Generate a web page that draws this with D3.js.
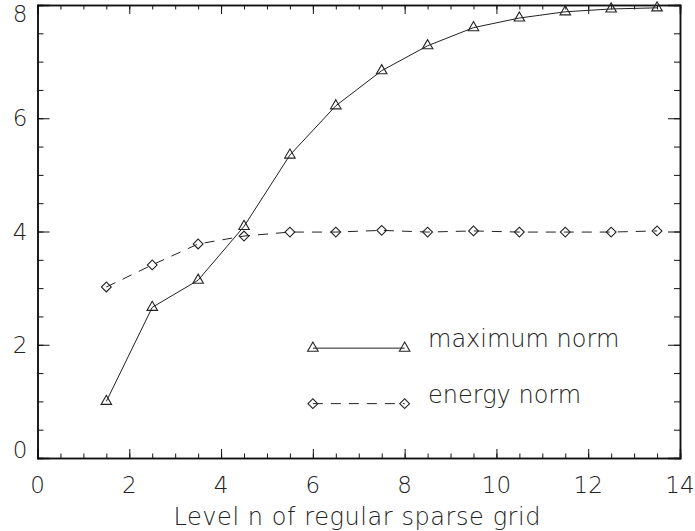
<!DOCTYPE html>
<html>
<head>
<meta charset="utf-8">
<script src="https://cdn.jsdelivr.net/npm/d3@7"></script>
<style>
  body { margin: 0; background: #fff; }
  text { font-family: "DejaVu Sans", sans-serif; font-weight: 200; fill: #222; }
</style>
</head>
<body>
<div id="chart"></div>
<script>
const width = 695;
const height = 531;

const levels = [1.5, 2.5, 3.5, 4.5, 5.5, 6.5, 7.5, 8.5, 9.5, 10.5, 11.5, 12.5, 13.5];
const maxNorm = [1.0, 2.66, 3.14, 4.09, 5.35, 6.22, 6.84, 7.28, 7.6, 7.77, 7.88, 7.93, 7.95];
const energyNorm = [3.02, 3.41, 3.78, 3.92, 3.99, 3.99, 4.02, 3.99, 4.01, 3.99, 3.99, 3.99, 4.01];
const xTicks = [0, 2, 4, 6, 8, 10, 12, 14];
const yTicks = [0, 2, 4, 6, 8];
const legendItems = [
  {label: 'maximum norm', y: 1.94, symbol: 'triangle', dash: null},
  {label: 'energy norm', y: 0.96, symbol: 'diamond', dash: '10,8'}
];

const margin = {left: 37.5, right: 15, top: 5, bottom: 73};

const x = d3.scaleLinear().domain([0, 14]).range([margin.left, width - margin.right]);
const y = d3.scaleLinear().domain([0, 8]).range([height - margin.bottom, margin.top]);

const svg = d3.select('#chart').append('svg')
  .attr('width', width)
  .attr('height', height);

// frame with ticks on all four sides, pointing inward
const xMinor = d3.range(0, 14.01, 0.5);
const yMinor = d3.range(0, 8.01, 0.5);

function frameAxis(axis, pos) {
  return svg.append('g').attr('transform', pos).call(axis)
    .call(g => g.select('.domain').attr('stroke', '#111').attr('stroke-width', 1.5))
    .call(g => g.selectAll('line').attr('stroke', '#111'));
}

frameAxis(d3.axisBottom(x).tickValues(xMinor).tickSize(-4.5).tickFormat(''), `translate(0,${y(0)})`);
frameAxis(d3.axisBottom(x).tickValues(xTicks).tickSize(-9).tickFormat(''), `translate(0,${y(0)})`);
frameAxis(d3.axisTop(x).tickValues(xMinor).tickSize(-4.5).tickFormat(''), `translate(0,${y(8)})`);
frameAxis(d3.axisTop(x).tickValues(xTicks).tickSize(-9).tickFormat(''), `translate(0,${y(8)})`);
frameAxis(d3.axisLeft(y).tickValues(yMinor).tickSize(-6).tickFormat(''), `translate(${x(0)},0)`);
frameAxis(d3.axisLeft(y).tickValues(yTicks).tickSize(-12).tickFormat(''), `translate(${x(0)},0)`);
frameAxis(d3.axisRight(y).tickValues(yMinor).tickSize(-6).tickFormat(''), `translate(${x(14)},0)`);
frameAxis(d3.axisRight(y).tickValues(yTicks).tickSize(-12).tickFormat(''), `translate(${x(14)},0)`);

// tick labels
svg.append('g').selectAll('text')
  .data(xTicks)
  .join('text')
  .attr('x', d => x(d))
  .attr('y', y(0) + 35)
  .attr('text-anchor', 'middle')
  .attr('font-size', 23)
  .text(d => d);

svg.append('g').selectAll('text')
  .data(yTicks)
  .join('text')
  .attr('x', x(0) - 10)
  .attr('y', d => d === 8 ? y(d) + 17 : d === 0 ? y(d) : y(d) + 8)
  .attr('text-anchor', 'end')
  .attr('font-size', 23)
  .text(d => d);

svg.append('text')
  .attr('x', 357)
  .attr('y', 525)
  .attr('text-anchor', 'middle')
  .attr('font-size', 24)
  .attr('textLength', 367)
  .text('Level n of regular sparse grid');

// series
const pts = (vals) => levels.map((l, i) => [l, vals[i]]);
const line = d3.line().x(d => x(d[0])).y(d => y(d[1]));

const triangle = d3.symbol().type(d3.symbolTriangle).size(48);
const diamond = d3.symbol().type(d3.symbolSquare).size(48);

function drawSeries(data, dash, symbol) {
  svg.append('path')
    .datum(data)
    .attr('d', line)
    .attr('fill', 'none')
    .attr('stroke', '#222')
    .attr('stroke-width', 1)
    .attr('stroke-dasharray', dash);
  svg.append('g').selectAll('path')
    .data(data)
    .join('path')
    .attr('transform', d => symbol === 'diamond'
      ? `translate(${x(d[0])},${y(d[1])}) rotate(45)`
      : `translate(${x(d[0])},${y(d[1])})`)
    .attr('d', symbol === 'diamond' ? diamond : triangle)
    .attr('fill', 'none')
    .attr('stroke', '#222')
    .attr('stroke-width', 1.1);
}

drawSeries(pts(energyNorm), '10,8', 'diamond');
drawSeries(pts(maxNorm), null, 'triangle');

// legend
legendItems.forEach(item => {
  drawSeries([[6, item.y], [8, item.y]], item.dash, item.symbol);
  svg.append('text')
    .attr('x', 428)
    .attr('y', y(item.y) - 1)
    .attr('font-size', 24)
    .text(item.label);
});
</script>
</body>
</html>
